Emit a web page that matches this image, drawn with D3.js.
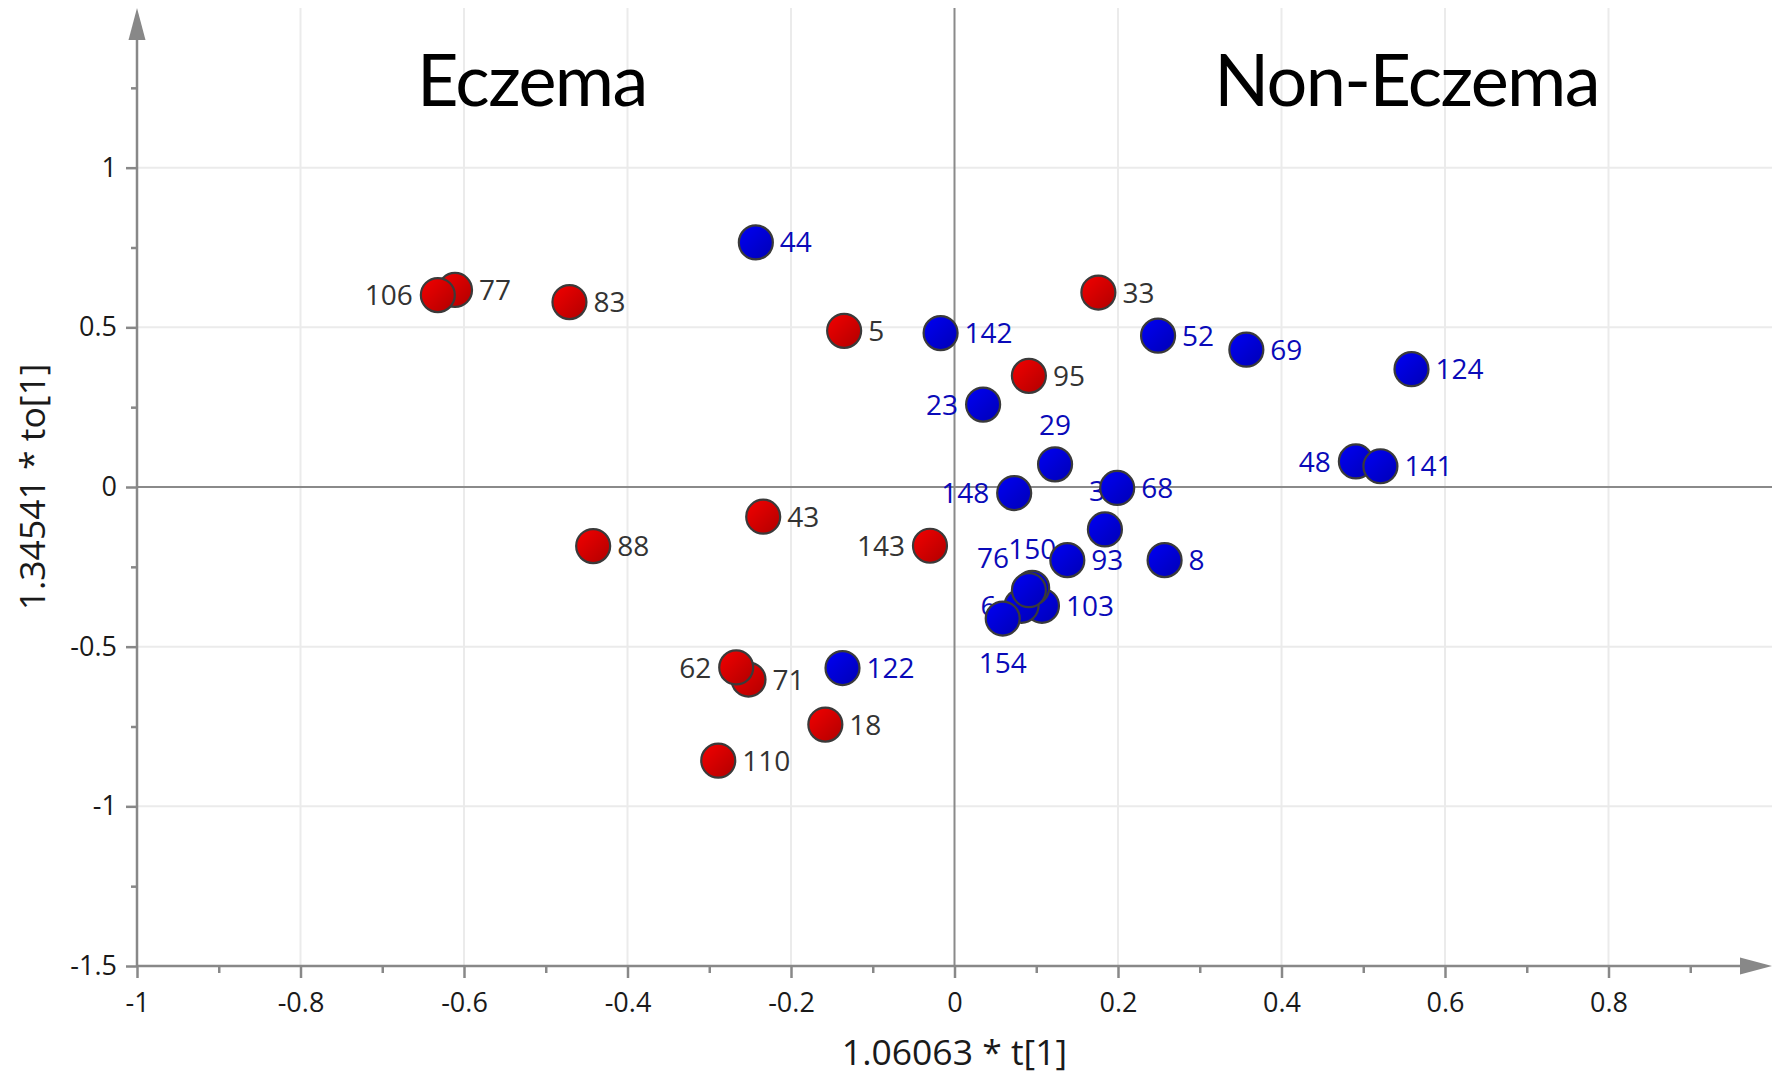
<!DOCTYPE html>
<html>
<head>
<meta charset="utf-8">
<script src="https://cdn.jsdelivr.net/npm/d3@7"></script>
<style>
  body { margin: 0; background: #fff; }
  svg { display: block; }
</style>
</head>
<body>
<svg id="chart" width="1783" height="1074"></svg>
<script>
// eczema samples (red)
var eczemaIds = ["77", "106", "83", "5", "33", "95", "43", "88", "143", "71", "62", "18", "110"];
var eczemaT   = [-0.611, -0.632, -0.471, -0.135, 0.176, 0.091, -0.234, -0.442, -0.030, -0.252, -0.267, -0.158, -0.289];
var eczemaTo  = [0.617, 0.601, 0.579, 0.489, 0.609, 0.348, -0.093, -0.185, -0.184, -0.603, -0.565, -0.744, -0.857];

// non-eczema samples (blue)
var nonIds = ["44", "142", "52", "69", "124", "23", "29", "48", "141", "148", "35", "68", "93", "8", "103", "6", "154", "150", "76", "122"];
var nonT   = [-0.243, -0.017, 0.249, 0.357, 0.559, 0.035, 0.123, 0.491, 0.521, 0.073, 0.184, 0.199, 0.138, 0.257, 0.107, 0.082, 0.059, 0.095, 0.091, -0.137];
var nonTo  = [0.766, 0.482, 0.474, 0.430, 0.369, 0.258, 0.071, 0.080, 0.065, -0.019, -0.133, -0.003, -0.229, -0.229, -0.372, -0.372, -0.412, -0.316, -0.323, -0.567];

// where each id's label sits relative to its marker
var labelSide = {
  "106": "l", "23": "l", "148": "l", "48": "l", "143": "l", "62": "l", "6": "l",
  "29": "t", "35": "t", "150": "t", "76": "tl", "154": "b"
};

// ticks
var xMajor = [-1, -0.8, -0.6, -0.4, -0.2, 0, 0.2, 0.4, 0.6, 0.8];
var xMinor = [-0.9, -0.7, -0.5, -0.3, -0.1, 0.1, 0.3, 0.5, 0.7, 0.9];
var yMajor = [-1.5, -1, -0.5, 0, 0.5, 1];
var yMinor = [-1.25, -0.75, -0.25, 0.25, 0.75, 1.25];

var groupTitles = ["Eczema", "Non-Eczema"];
var groupTitleX = [-0.517, 0.553];

var svg = d3.select("#chart");
var x = d3.scaleLinear().domain([-1, 1]).range([137, 1772]);
var y = d3.scaleLinear().domain([-1.5, 1.5]).range([966, 8]);

var fmt = function(d) { return String(+d.toFixed(2)); };

var defs = svg.append("defs");
function grad(id, c1, c2) {
  var g = defs.append("linearGradient").attr("id", id)
    .attr("x1", "0").attr("y1", "0").attr("x2", "1").attr("y2", "1");
  g.append("stop").attr("offset", "0").attr("stop-color", c1);
  g.append("stop").attr("offset", "1").attr("stop-color", c2);
}
grad("gRed", "#f40000", "#b00000");
grad("gBlue", "#0000f6", "#0000b4");

// grid
var grid = svg.append("g");
grid.selectAll(".vg").data(xMajor.filter(function(d) { return d !== 0 && d !== -1; }))
  .enter().append("line")
  .attr("x1", function(d) { return x(d); }).attr("x2", function(d) { return x(d); })
  .attr("y1", y(-1.5)).attr("y2", y(1.5))
  .attr("stroke", "#ebebeb").attr("stroke-width", 2);
grid.selectAll(".hg").data(yMajor.filter(function(d) { return d !== 0 && d !== -1.5; }))
  .enter().append("line")
  .attr("y1", function(d) { return y(d); }).attr("y2", function(d) { return y(d); })
  .attr("x1", x(-1)).attr("x2", x(1))
  .attr("stroke", "#ebebeb").attr("stroke-width", 2);

// zero lines
svg.append("line").attr("x1", x(0)).attr("x2", x(0)).attr("y1", y(-1.5)).attr("y2", y(1.5))
  .attr("stroke", "#8a8a8a").attr("stroke-width", 2);
svg.append("line").attr("x1", x(-1)).attr("x2", x(1)).attr("y1", y(0)).attr("y2", y(0))
  .attr("stroke", "#8a8a8a").attr("stroke-width", 2);

// axes
function styleAxis(g) {
  g.select(".domain").remove();
  g.selectAll(".tick line").attr("stroke", "#888").attr("stroke-width", 2.5);
  g.selectAll(".tick text").attr("fill", "#1a1a1a")
    .style("font-family", "'Open Sans', sans-serif").style("font-size", "27px");
}
svg.append("g").attr("transform", "translate(0," + y(-1.5) + ")")
  .call(d3.axisBottom(x).tickValues(xMajor).tickSize(12).tickPadding(15).tickFormat(fmt))
  .call(styleAxis);
svg.append("g").attr("transform", "translate(0," + y(-1.5) + ")")
  .call(d3.axisBottom(x).tickValues(xMinor).tickSize(7).tickFormat(""))
  .call(styleAxis);
svg.append("g").attr("transform", "translate(" + x(-1) + ",0)")
  .call(d3.axisLeft(y).tickValues(yMajor).tickSize(11).tickPadding(9).tickFormat(fmt))
  .call(styleAxis);
svg.append("g").attr("transform", "translate(" + x(-1) + ",0)")
  .call(d3.axisLeft(y).tickValues(yMinor).tickSize(6).tickFormat(""))
  .call(styleAxis);

// axis lines with arrows
var ah = 32, aw = 8.5;
svg.append("line").attr("x1", x(-1)).attr("x2", x(1) - ah).attr("y1", y(-1.5)).attr("y2", y(-1.5))
  .attr("stroke", "#888").attr("stroke-width", 2.5);
svg.append("line").attr("x1", x(-1)).attr("x2", x(-1)).attr("y1", y(-1.5)).attr("y2", y(1.5) + ah)
  .attr("stroke", "#888").attr("stroke-width", 2.5);
svg.append("path").attr("fill", "#888")
  .attr("d", "M" + x(1) + "," + y(-1.5) + "L" + (x(1) - ah) + "," + (y(-1.5) - aw) + "L" + (x(1) - ah) + "," + (y(-1.5) + aw) + "Z");
svg.append("path").attr("fill", "#888")
  .attr("d", "M" + x(-1) + "," + y(1.5) + "L" + (x(-1) - aw) + "," + (y(1.5) + ah) + "L" + (x(-1) + aw) + "," + (y(1.5) + ah) + "Z");

// axis titles
svg.append("text").attr("x", x(0)).attr("y", 1065).attr("text-anchor", "middle")
  .style("font-family", "'Open Sans', sans-serif").style("font-size", "35.5px").attr("fill", "#1a1a1a")
  .text("1.06063 * t[1]");
svg.append("text").attr("transform", "translate(45," + y(0) + ") rotate(-90)").attr("text-anchor", "middle")
  .style("font-family", "'Open Sans', sans-serif").style("font-size", "35.5px").attr("fill", "#1a1a1a")
  .text("1.34541 * to[1]");

// group titles
svg.selectAll(".gt").data(groupTitles).enter().append("text")
  .attr("x", function(d, i) { return x(groupTitleX[i]); })
  .attr("y", 106).attr("text-anchor", "middle")
  .style("font-family", "Lato, sans-serif").style("font-size", "72px")
  .style("letter-spacing", "-1.6px").attr("fill", "#000")
  .text(function(d) { return d; });

// points
var pts = [];
eczemaIds.forEach(function(id, i) { pts.push({ id: id, t: eczemaT[i], to: eczemaTo[i], g: 0 }); });
nonIds.forEach(function(id, i) { pts.push({ id: id, t: nonT[i], to: nonTo[i], g: 1 }); });

var r = 17;
var off = { r: [24, 0, "start"], l: [-25, 0, "end"], t: [0, -39, "middle"], b: [0, 44, "middle"], tl: [-36, -32, "middle"] };

svg.append("g").selectAll("text").data(pts).enter().append("text")
  .attr("x", function(d) { return x(d.t) + off[labelSide[d.id] || "r"][0]; })
  .attr("y", function(d) { return y(d.to) + off[labelSide[d.id] || "r"][1]; })
  .attr("dy", "0.36em")
  .attr("text-anchor", function(d) { return off[labelSide[d.id] || "r"][2]; })
  .style("font-family", "'Open Sans', sans-serif").style("font-size", "28px")
  .attr("fill", function(d) { return d.g === 0 ? "#333" : "#0a0ab8"; })
  .text(function(d) { return d.id; });

svg.append("g").selectAll("circle").data(pts).enter().append("circle")
  .attr("cx", function(d) { return x(d.t); })
  .attr("cy", function(d) { return y(d.to); })
  .attr("r", r)
  .attr("fill", function(d) { return d.g === 0 ? "url(#gRed)" : "url(#gBlue)"; })
  .attr("stroke", "#3a3a3a").attr("stroke-width", 2.2);
</script>
</body>
</html>
